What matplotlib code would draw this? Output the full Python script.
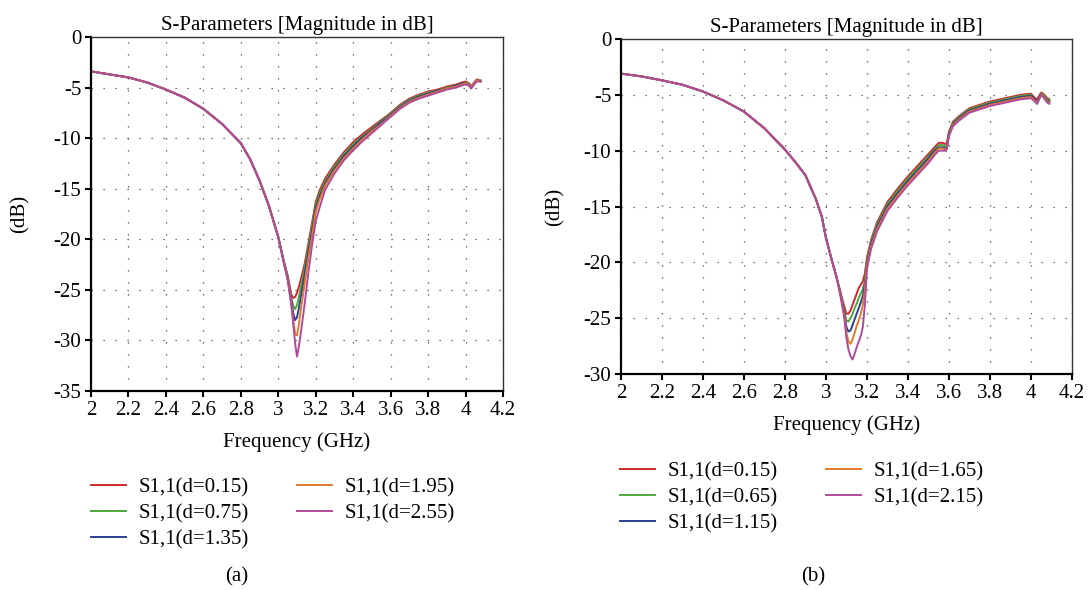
import matplotlib.pyplot as plt
import numpy as np

plt.rcParams['font.family'] = ['Liberation Serif', 'DejaVu Serif']
FS = 15

# ---- panel (a) ----
# shared part of the curves (all traces overlap up to ~3.0 GHz)
a_common_f = [2.0, 2.1, 2.2, 2.3, 2.4, 2.5, 2.6, 2.7, 2.8, 2.85, 2.9, 2.95, 3.0]
a_common_db = [-3.4, -3.7, -4.0, -4.5, -5.2, -6.0, -7.1, -8.6, -10.5, -12.1, -14.2, -16.7, -19.8]

a_f = [3.03, 3.05, 3.07, 3.08, 3.09, 3.10, 3.11, 3.12, 3.14, 3.16, 3.18, 3.20, 3.22, 3.25,
       3.30, 3.35, 3.40, 3.45, 3.50, 3.55, 3.58, 3.60, 3.65, 3.70, 3.75, 3.80, 3.85, 3.90,
       3.95, 3.98, 4.00, 4.02, 4.03, 4.05, 4.06, 4.08]
a_d015 = [-22.2, -23.6, -25.5, -25.8, -25.7, -25.3, -24.7, -24.0, -22.5, -20.5, -18.4, -16.3,
          -15.2, -14.0, -12.6, -11.4, -10.4, -9.6, -8.9, -8.2, -7.8, -7.5, -6.7, -6.1, -5.7,
          -5.4, -5.2, -4.9, -4.7, -4.5, -4.4, -4.6, -4.9, -4.4, -4.2, -4.3]
a_d075 = [-22.2, -23.7, -25.8, -26.6, -26.9, -26.5, -25.7, -24.8, -23.0, -20.9, -18.8, -16.6,
          -15.5, -14.3, -12.8, -11.6, -10.6, -9.8, -9.1, -8.3, -7.9, -7.6, -6.8, -6.2, -5.8,
          -5.5, -5.3, -5.0, -4.8, -4.6, -4.5, -4.7, -4.9, -4.5, -4.3, -4.3]
a_d135 = [-22.3, -23.8, -26.1, -27.3, -28.0, -27.7, -26.8, -25.7, -23.6, -21.3, -19.2, -16.9,
          -15.8, -14.5, -13.0, -11.8, -10.8, -9.9, -9.2, -8.4, -8.0, -7.7, -6.9, -6.3, -5.9,
          -5.6, -5.3, -5.1, -4.8, -4.6, -4.6, -4.8, -5.0, -4.5, -4.3, -4.4]
a_d195 = [-22.3, -23.9, -26.4, -28.0, -29.4, -29.5, -28.4, -27.0, -24.5, -21.9, -19.7, -17.3,
          -16.1, -14.7, -13.2, -12.0, -11.0, -10.1, -9.3, -8.6, -8.1, -7.8, -7.0, -6.4, -6.0,
          -5.7, -5.4, -5.1, -4.9, -4.7, -4.6, -4.8, -5.0, -4.5, -4.3, -4.4]
a_d255 = [-22.4, -24.0, -26.6, -28.4, -30.3, -31.6, -30.6, -29.3, -26.5, -23.4, -20.6, -18.2,
          -16.9, -15.1, -13.5, -12.2, -11.2, -10.3, -9.5, -8.7, -8.2, -7.9, -7.1, -6.5, -6.1,
          -5.8, -5.5, -5.2, -5.0, -4.8, -4.7, -4.8, -5.1, -4.6, -4.4, -4.4]

# ---- panel (b) ----
b_common_f = [2.0, 2.1, 2.2, 2.25, 2.3, 2.4, 2.5, 2.6, 2.7, 2.8, 2.85, 2.9, 2.95, 2.98,
              3.0, 3.03, 3.05]
b_common_db = [-3.1, -3.35, -3.7, -3.9, -4.1, -4.7, -5.5, -6.5, -8.0, -9.9, -11.0, -12.2,
               -14.3, -15.9, -17.8, -19.9, -21.2]

b_f = [3.07, 3.09, 3.10, 3.11, 3.12, 3.13, 3.14, 3.15, 3.16, 3.17, 3.18, 3.19, 3.20, 3.22,
       3.25, 3.30, 3.35, 3.40, 3.45, 3.50, 3.53, 3.55, 3.57, 3.58, 3.59, 3.60, 3.62, 3.65,
       3.70, 3.75, 3.80, 3.85, 3.90, 3.95, 4.00, 4.02, 4.03, 4.05, 4.06, 4.08, 4.09]
b_d015 = [-22.6, -24.0, -24.6, -24.6, -24.3, -23.8, -23.3, -22.8, -22.3, -22.0, -21.7, -21.0,
          -19.6, -18.0, -16.4, -14.6, -13.4, -12.3, -11.3, -10.3, -9.7, -9.3, -9.3, -9.4,
          -9.3, -8.3, -7.4, -6.9, -6.2, -5.9, -5.6, -5.4, -5.2, -5.0, -4.9, -5.3, -5.4, -4.8,
          -4.9, -5.3, -5.4]
b_d065 = [-22.7, -24.4, -25.2, -25.3, -25.0, -24.6, -24.1, -23.7, -23.2, -22.8, -22.4, -21.6,
          -19.9, -18.2, -16.6, -14.8, -13.6, -12.5, -11.5, -10.5, -9.9, -9.5, -9.5, -9.6,
          -9.5, -8.4, -7.5, -7.0, -6.3, -6.0, -5.7, -5.5, -5.3, -5.1, -5.0, -5.6, -5.8, -4.9,
          -5.0, -5.4, -5.5]
b_d115 = [-22.7, -24.6, -25.8, -26.2, -26.1, -25.6, -25.1, -24.6, -24.1, -23.6, -23.0, -22.0,
          -20.1, -18.4, -16.8, -15.0, -13.8, -12.7, -11.7, -10.7, -10.0, -9.7, -9.7, -9.8,
          -9.7, -8.5, -7.6, -7.1, -6.4, -6.1, -5.8, -5.6, -5.4, -5.2, -5.1, -5.4, -5.6, -5.0,
          -5.1, -5.5, -5.6]
b_d165 = [-22.8, -24.8, -26.3, -27.1, -27.3, -26.9, -26.3, -25.7, -25.2, -24.6, -23.8, -22.5,
          -20.3, -18.6, -17.0, -15.2, -14.0, -12.9, -11.9, -10.9, -10.2, -9.8, -9.8, -9.9,
          -9.8, -8.6, -7.7, -7.2, -6.5, -6.2, -5.9, -5.7, -5.5, -5.3, -5.2, -5.5, -5.7, -5.0,
          -5.1, -5.6, -5.7]
b_d215 = [-22.9, -25.0, -26.8, -27.8, -28.4, -28.7, -28.2, -27.6, -27.1, -26.6, -25.8, -23.8,
          -20.6, -18.8, -17.2, -15.4, -14.2, -13.1, -12.1, -11.1, -10.4, -10.0, -10.0, -10.0,
          -9.9, -8.7, -7.8, -7.3, -6.6, -6.3, -6.0, -5.8, -5.6, -5.4, -5.3, -5.6, -5.8, -5.0,
          -5.2, -5.7, -5.8]

a_labels = ['S1,1(d=0.15)', 'S1,1(d=0.75)', 'S1,1(d=1.35)', 'S1,1(d=1.95)', 'S1,1(d=2.55)']
b_labels = ['S1,1(d=0.15)', 'S1,1(d=0.65)', 'S1,1(d=1.15)', 'S1,1(d=1.65)', 'S1,1(d=2.15)']
colors = ['#d3262c', '#4ea83b', '#2c3f92', '#e0792a', '#b04a9c']

x_ticks = [2, 2.2, 2.4, 2.6, 2.8, 3, 3.2, 3.4, 3.6, 3.8, 4, 4.2]
x_ticklabels = ['2', '2.2', '2.4', '2.6', '2.8', '3', '3.2', '3.4', '3.6', '3.8', '4', '4.2']

fig = plt.figure(figsize=(10.89, 5.90), dpi=100)
ax_a = fig.add_axes([0.0836, 0.3373, 0.3783, 0.600])
ax_b = fig.add_axes([0.5702, 0.3661, 0.4141, 0.5678])


def style(ax, ymin, yticks):
    ax.set_xlim(2, 4.2)
    ax.set_ylim(ymin, 0)
    ax.set_xticks(x_ticks)
    ax.set_xticklabels(x_ticklabels)
    ax.set_yticks(yticks)
    ax.set_yticklabels([str(v) for v in yticks])
    ax.tick_params(direction='out', length=4, width=1.5, labelsize=FS, pad=3)
    ax.grid(True, color='#444444', linestyle=(0, (1, 8.6)), linewidth=0.9)
    for s in ['left', 'bottom']:
        ax.spines[s].set_linewidth(1.6)
    for s in ['top', 'right']:
        ax.spines[s].set_linewidth(1.0)
        ax.spines[s].set_color('#333333')
    ax.set_title('S-Parameters [Magnitude in dB]', fontsize=FS, pad=5)
    ax.set_ylabel('(dB)', fontsize=FS)


a_series = [a_d015, a_d075, a_d135, a_d195, a_d255]
for vals, c, lab in zip(a_series, colors, a_labels):
    ax_a.plot(a_common_f + a_f, a_common_db + vals, color=c, lw=1.4, label=lab)
style(ax_a, -35, [0, -5, -10, -15, -20, -25, -30, -35])
ax_a.set_xlabel('Frequency (GHz)', fontsize=FS, labelpad=9)
ax_a.yaxis.set_label_coords(-0.148, 0.5)

b_series = [b_d015, b_d065, b_d115, b_d165, b_d215]
for vals, c, lab in zip(b_series, colors, b_labels):
    ax_b.plot(b_common_f + b_f, b_common_db + vals, color=c, lw=1.4, label=lab)
style(ax_b, -30, [0, -5, -10, -15, -20, -25, -30])
ax_b.set_xlabel('Frequency (GHz)', fontsize=FS, labelpad=9)
ax_b.yaxis.set_label_coords(-0.125, 0.5)

leg_kw = dict(ncol=2, frameon=False, fontsize=FS, handlelength=1.68, handletextpad=0.62,
              labelspacing=0.3, columnspacing=2.3, borderpad=0, borderaxespad=0,
              loc='upper left', bbox_transform=fig.transFigure)
h, l = ax_a.get_legend_handles_labels()
fig.legend(h, l, bbox_to_anchor=(0.0836, 0.19), **leg_kw)
h, l = ax_b.get_legend_handles_labels()
fig.legend(h, l, bbox_to_anchor=(0.569, 0.217), **leg_kw)

fig.text(0.2176, 0.022, '(a)', fontsize=FS, ha='center', va='center')
fig.text(0.7466, 0.022, '(b)', fontsize=FS, ha='center', va='center')

fig.savefig('out.png', dpi=100)
